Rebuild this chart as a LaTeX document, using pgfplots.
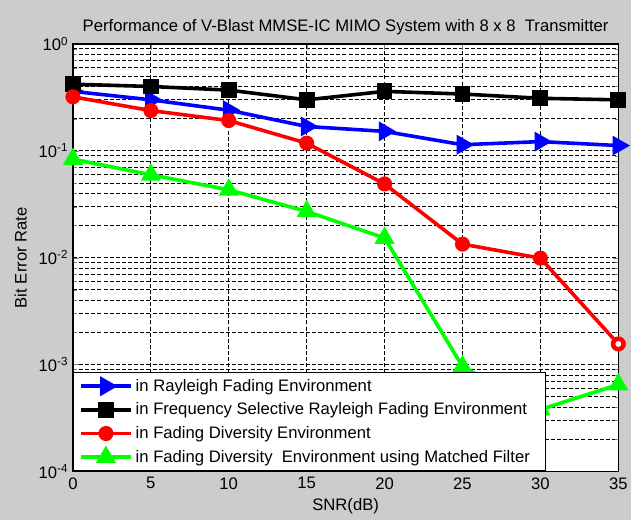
\documentclass[border=0pt]{standalone}
\usepackage{pgfplots}
\pgfplotsset{compat=1.18}
\usepackage{fontspec}
\setmainfont{Liberation Sans}
\usetikzlibrary{backgrounds}
\definecolor{figgray}{RGB}{204,204,204}
\definecolor{mblue}{RGB}{0,0,255}
\definecolor{mgreen}{RGB}{0,255,0}
\definecolor{mred}{RGB}{255,0,0}
\begin{document}
\begin{tikzpicture}
\begin{axis}[
  scale only axis,
  width=409.5pt, height=321pt,
  xmin=0, xmax=35, ymin=1e-4, ymax=1,
  ymode=log,
  axis background/.style={fill=white},
  xtick={0,5,10,15,20,25,30,35},
  ytick={1e-4,1e-3,1e-2,1e-1,1},
  yticklabels={10\textsuperscript{-4},10\textsuperscript{-3},10\textsuperscript{-2},10\textsuperscript{-1},10\textsuperscript{0}},
  /pgf/number format/assume math mode=true,
  tick label style={font=\fontsize{12.5}{14}\selectfont},
  xticklabel style={yshift=-1pt},
  tick align=inside,
  grid=both,
  major grid style={dash pattern=on 3pt off 1.6pt, black, line width=0.6pt},
  minor grid style={dash pattern=on 3pt off 1.6pt, black, line width=0.6pt},
  axis line style={black, line width=0.9pt},
  title={Performance of V-Blast MMSE-IC MIMO System with 8 x 8\ \ Transmitter},
  title style={font=\fontsize{12.5}{14}\selectfont, yshift=-3pt},
  xlabel={SNR(dB)},
  ylabel={Bit Error Rate},
  label style={font=\fontsize{12.5}{14}\selectfont},
  ylabel style={yshift=2pt},
  legend cell align=left,
  legend style={at={(0,0)}, anchor=south west, draw=black, line width=0.9pt,
    font=\fontsize{12.5}{14}\selectfont, row sep=3.2pt, inner xsep=4pt, inner ysep=3pt},
  legend image code/.code={\draw[mark repeat=2,mark phase=2,#1] plot coordinates {(0pt,0pt) (19pt,0pt) (38pt,0pt)};},
  every axis plot/.append style={line width=2.7pt},
]
\addplot[mblue, mark=triangle*, mark size=6pt, mark options={rotate=-90, solid}] coordinates {
(0,0.36) (5,0.30) (10,0.24) (15,0.169) (20,0.152) (25,0.114) (30,0.122) (35,0.112)};
\addlegendentry{in Rayleigh Fading Environment}
\addplot[black, mark=square*, mark size=4.6pt] coordinates {
(0,0.42) (5,0.40) (10,0.37) (15,0.30) (20,0.36) (25,0.34) (30,0.31) (35,0.30)};
\addlegendentry{in Frequency Selective Rayleigh Fading Environment}
\addplot[mred, mark=*, mark size=4.3pt] coordinates {
(0,0.32) (5,0.238) (10,0.192) (15,0.118) (20,0.049) (25,0.0134) (30,0.0099) (35,0.00156)};
\addlegendentry{in Fading Diversity Environment}
\addplot[mgreen, mark=triangle*, mark size=6pt] coordinates {
(0,0.0836) (5,0.0597) (10,0.0432) (15,0.0271) (20,0.0153) (25,0.00096) (30,0.00038) (35,0.00065)};
\addlegendentry{in Fading Diversity\ \ Environment using Matched Filter\hspace*{6pt}}
\addplot[mred, mark=*, mark size=3.3pt, line width=1.8pt, mark options={fill=white}, only marks, forget plot] coordinates {(35,0.00156)};
\end{axis}
\begin{scope}[on background layer]
\fill[figgray] (-54.75pt,-36.75pt) rectangle (419.25pt,354pt);
\end{scope}
\end{tikzpicture}
\end{document}
